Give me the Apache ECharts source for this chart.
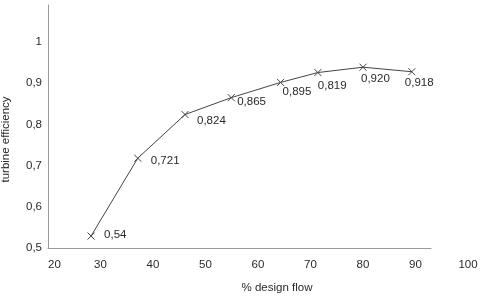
<!DOCTYPE html>
<html><head><meta charset="utf-8">
<script src="https://cdn.jsdelivr.net/npm/echarts@6/dist/echarts.min.js"></script>
<style>html,body{margin:0;padding:0;background:#fff}#c{width:482px;height:296px}</style>
</head><body><div id="c"></div>
<script>
// Data
const flow = [28.2, 37.1, 46.1, 54.9, 64.3, 71.4, 80.0, 89.3];
const efficiency = [0.529, 0.718, 0.824, 0.865, 0.902, 0.926, 0.939, 0.928];
const pointLabels = ['0,54', '0,721', '0,824', '0,865', '0,895', '0,819', '0,920', '0,918'];
const xTickLabels = [20, 30, 40, 50, 60, 70, 80, 90, 100];
const yTickLabels = [0.5, 0.6, 0.7, 0.8, 0.9, 1];
const xName = '% design flow';
const yName = 'turbine efficiency';

const FONT = "'Liberation Sans', Arial, sans-serif";
const TXT = '#2a2a2a';
const AXIS = '#9a9a9a';
// label placement style (per point, relative to its marker)
const labelShift = [[9,-1],[9,3],[8,6],[2,4],[-2,9],[-4,13],[-6,12],[-11,11]];

const chart = echarts.init(document.getElementById('c'), null, {renderer: 'canvas'});
chart.setOption({
  animation: false,
  backgroundColor: '#fff',
  grid: [
    {left: 48, right: 14, top: 5, bottom: 48, outerBoundsMode: 'none', containLabel: false},
    {left: 48, right: 51, top: 5, bottom: 48, outerBoundsMode: 'none', containLabel: false}
  ],
  xAxis: [
    {
      type: 'value', gridIndex: 0,
      min: xTickLabels[0], max: xTickLabels[xTickLabels.length - 1], interval: 10,
      axisLine: {show: false}, axisTick: {show: false}, splitLine: {show: false},
      axisLabel: {
        color: TXT, fontSize: 11.5, fontFamily: FONT, margin: 11,
        alignMinLabel: 'left',
        formatter: v => xTickLabels.includes(v) ? String(v) : ''
      },
      name: xName, nameLocation: 'middle', nameGap: 34,
      nameTextStyle: {color: TXT, fontSize: 11.5, fontFamily: FONT, padding: [0, 0, 0, 38]}
    },
    {
      type: 'value', gridIndex: 1, min: 0, max: 1,
      axisLine: {show: true, lineStyle: {color: AXIS, width: 1}},
      axisTick: {show: false}, axisLabel: {show: false}, splitLine: {show: false}
    }
  ],
  yAxis: [
    {
      type: 'value', gridIndex: 0,
      min: yTickLabels[0], max: 1.09, interval: 0.1,
      axisLine: {show: true, lineStyle: {color: AXIS, width: 1}},
      axisTick: {show: false}, splitLine: {show: false},
      axisLabel: {
        color: TXT, fontSize: 11.5, fontFamily: FONT, margin: 6,
        showMaxLabel: false,
        formatter: v => {
          const r = +v.toFixed(1);
          return yTickLabels.includes(r) ? String(r).replace('.', ',') : '';
        }
      },
      name: yName, nameLocation: 'middle', nameGap: 36, nameRotate: 90,
      nameTextStyle: {color: TXT, fontSize: 11.5, fontFamily: FONT, padding: [0, 26, 0, 0]}
    },
    {type: 'value', gridIndex: 1, show: false, min: 0, max: 1}
  ],
  series: [{
    type: 'line',
    xAxisIndex: 0, yAxisIndex: 0,
    data: flow.map((x, i) => ({
      value: [x, efficiency[i]],
      label: {offset: labelShift[i]}
    })),
    symbol: 'path://M0,0L10,10M10,0L0,10',
    symbolSize: 7,
    showAllSymbol: true,
    lineStyle: {color: '#444', width: 1},
    itemStyle: {color: 'rgba(0,0,0,0)', borderColor: '#444', borderWidth: 1},
    label: {
      show: true, position: 'right', distance: 0,
      color: TXT, fontSize: 11.5, fontFamily: FONT,
      formatter: p => pointLabels[p.dataIndex]
    },
    emphasis: {disabled: true}
  }]
});
</script>
</body></html>
